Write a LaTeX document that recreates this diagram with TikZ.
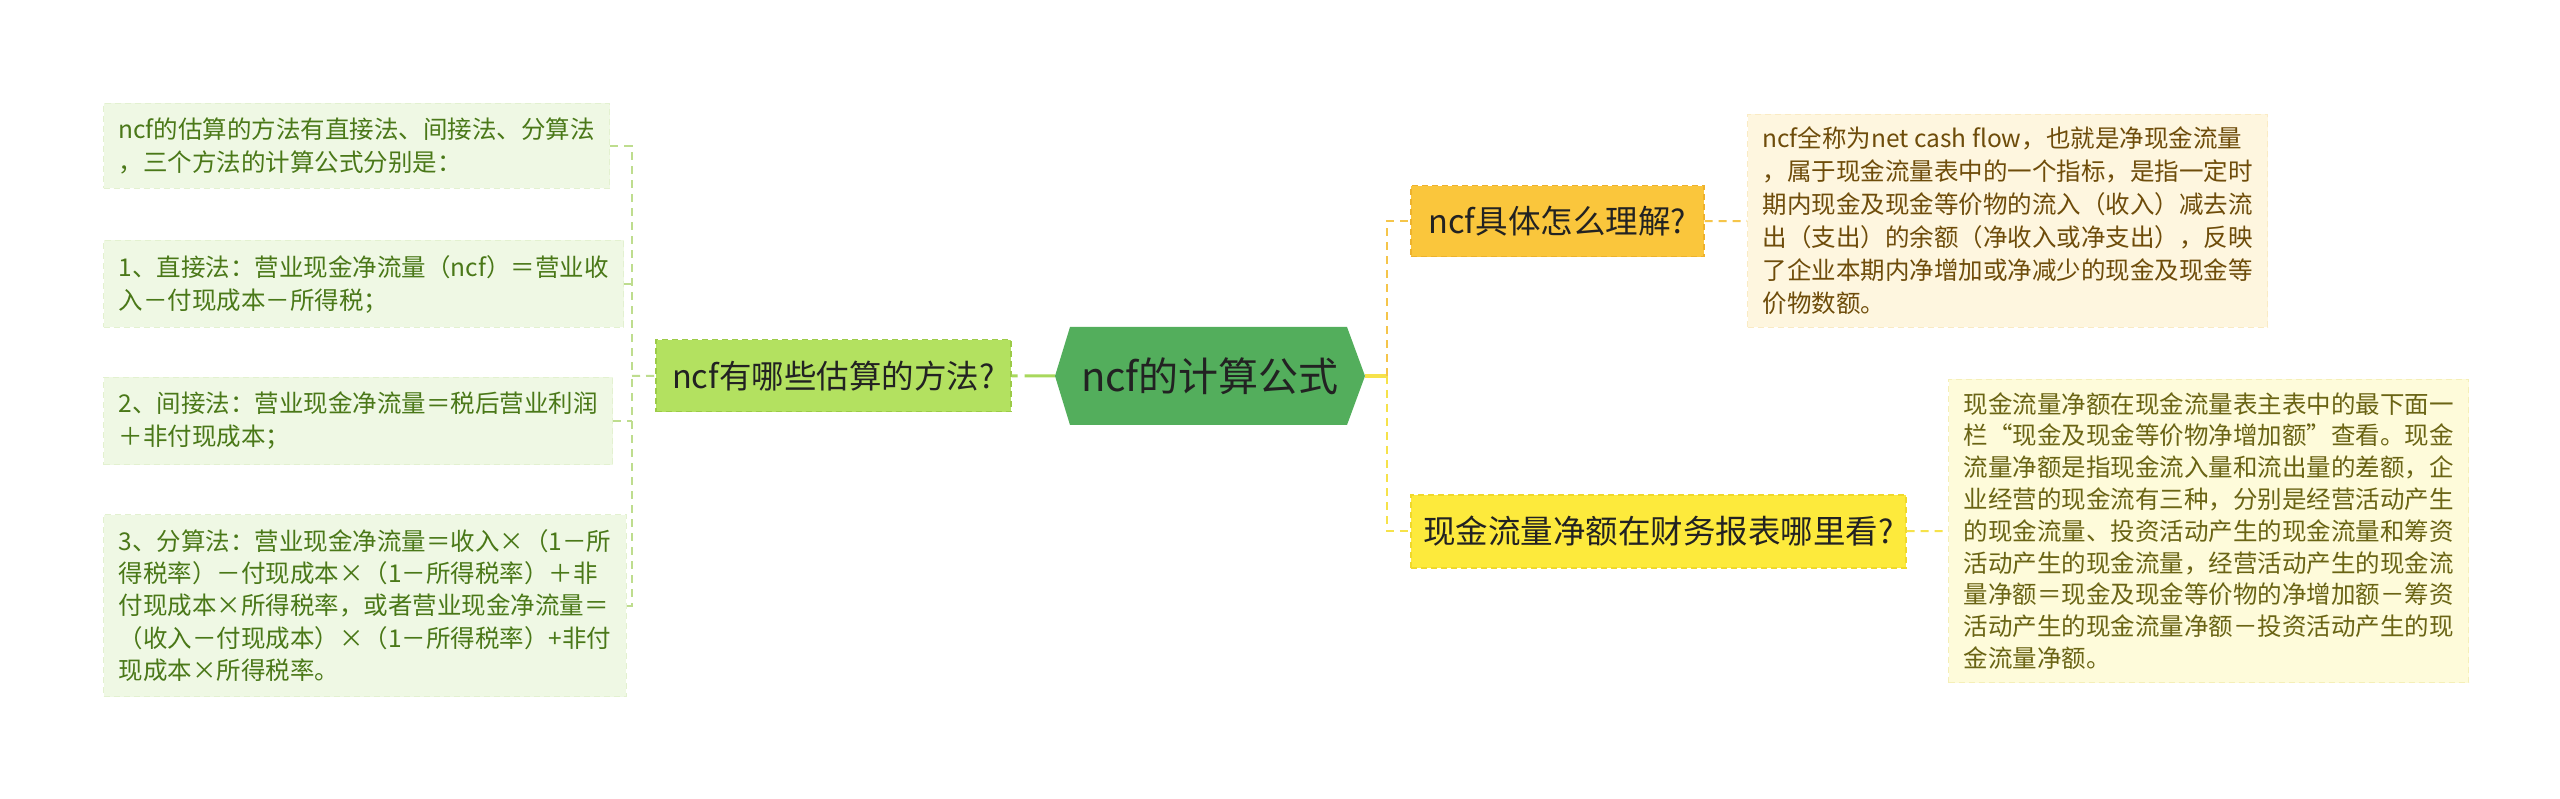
\documentclass[tikz,border=0pt]{standalone}
\usepackage{fontspec}
\setmainfont{Noto Sans CJK SC}
\definecolor{lfill}{HTML}{EFF8E4}
\definecolor{lborder}{HTML}{E3F1D0}
\definecolor{ltext}{HTML}{4A7818}
\definecolor{lconn}{HTML}{BEDD8E}
\definecolor{gfill}{HTML}{B3E160}
\definecolor{gborder}{HTML}{9CCB48}
\definecolor{gconn}{HTML}{A8D85C}
\definecolor{rootfill}{HTML}{53AE5C}
\definecolor{darktext}{HTML}{222222}
\definecolor{ofill}{HTML}{FAC63C}
\definecolor{oborder}{HTML}{EEB22C}
\definecolor{oconn}{HTML}{F5C54A}
\definecolor{r1fill}{HTML}{FEF6DF}
\definecolor{r1border}{HTML}{FAEBC4}
\definecolor{r1text}{HTML}{6E4C0A}
\definecolor{yfill}{HTML}{FDEA3C}
\definecolor{yborder}{HTML}{F0D92A}
\definecolor{yconn}{HTML}{F6E24A}
\definecolor{r2fill}{HTML}{FEFBDA}
\definecolor{r2border}{HTML}{F5EFB8}
\definecolor{r2text}{HTML}{6A6414}
\tikzset{
  leafbox/.style={rectangle, anchor=north west, inner xsep=15pt, inner ysep=0pt,
    align=left, font=\fontsize{24.5pt}{33pt}\selectfont,
    dash pattern=on 6pt off 4pt, line width=1pt},
  leftleaf/.style={leafbox, fill=lfill, draw=lborder, text=ltext},
  midbox/.style={rectangle, anchor=north west, inner sep=0pt, align=center,
    font=\fontsize{32.5pt}{36pt}\selectfont, text=darktext,
    dash pattern=on 6pt off 4pt, line width=1.5pt},
  dashconn/.style={line width=2pt, dash pattern=on 8pt off 6pt},
}
\begin{document}
\begin{tikzpicture}[x=1pt,y=-1pt]
\useasboundingbox[fill=white] (0,0) rectangle (2560,799);

% root hexagon
\fill[rootfill] (1055,376) -- (1070,327) -- (1347,327) -- (1365,376) -- (1347,425) -- (1070,425) -- cycle;
\node[minimum width=310pt, minimum height=98pt, inner sep=0pt, text=darktext,
  font=\fontsize{40pt}{44pt}\selectfont] (root) at (1210,376) {ncf的计算公式};

% left branch
\node[midbox, fill=gfill, draw=gborder, minimum width=355pt, minimum height=72pt] (gb) at (655,339) {ncf有哪些估算的方法?};

\node[leftleaf, minimum width=506pt, minimum height=85pt] (L1) at (103,103)
  {ncf的估算的方法有直接法、间接法、分算法\\，三个方法的计算公式分别是：};
\node[leftleaf, minimum width=506pt, minimum height=87pt] (L2) at (103,240)
  {1、直接法：营业现金净流量（ncf）＝营业收\\入－付现成本－所得税；};
\node[leftleaf, minimum width=506pt, minimum height=87pt] (L3) at (103,377)
  {2、间接法：营业现金净流量＝税后营业利润\\＋非付现成本；};
\node[leftleaf, minimum width=506pt, minimum height=182pt, font=\fontsize{24.5pt}{32.3pt}\selectfont] (L4) at (103,514)
  {3、分算法：营业现金净流量＝收入×（1－所\\得税率）－付现成本×（1－所得税率）＋非\\付现成本×所得税率，或者营业现金净流量＝\\（收入－付现成本）×（1－所得税率）+非付\\现成本×所得税率。};

% right branch
\node[midbox, fill=ofill, draw=oborder, minimum width=293pt, minimum height=71pt] (q1) at (1410,185) {ncf具体怎么理解?};
\node[midbox, fill=yfill, draw=yborder, minimum width=495pt, minimum height=73pt] (q2) at (1410,494) {现金流量净额在财务报表哪里看?};

\node[leafbox, fill=r1fill, draw=r1border, text=r1text, minimum width=508pt, minimum height=213pt] (r1) at (1747,114)
  {ncf全称为net cash flow，也就是净现金流量\\，属于现金流量表中的一个指标，是指一定时\\期内现金及现金等价物的流入（收入）减去流\\出（支出）的余额（净收入或净支出），反映\\了企业本期内净增加或净减少的现金及现金等\\价物数额。};
\node[leafbox, fill=r2fill, draw=r2border, text=r2text, minimum width=518pt, minimum height=303pt, font=\fontsize{24.5pt}{31.8pt}\selectfont] (r2) at (1948,379)
  {现金流量净额在现金流量表主表中的最下面一\\栏“现金及现金等价物净增加额”查看。现金\\流量净额是指现金流入量和流出量的差额，企\\业经营的现金流有三种，分别是经营活动产生\\的现金流量、投资活动产生的现金流量和筹资\\活动产生的现金流量，经营活动产生的现金流\\量净额＝现金及现金等价物的净增加额－筹资\\活动产生的现金流量净额－投资活动产生的现\\金流量净额。};

% connectors left
\coordinate (bl) at (632,376);
\draw[dashconn, lconn] (L1.east) -| (bl);
\draw[dashconn, lconn] (L4.east) -| (bl);
\draw[dashconn, lconn] (L2.east) -- (L2.east -| bl);
\draw[dashconn, lconn] (L3.east) -- (L3.east -| bl);
\draw[dashconn, lconn] (bl) -- (gb.west);
\draw[gconn, line width=3pt, dash pattern=on 6pt off 7pt on 40pt off 0pt] (gb.east) -- (root.west);

% connectors right
\coordinate (br) at (1387,376);
\draw[yconn, line width=4pt] (root.east) -- (br);
\draw[dashconn, oconn] (br) |- (q1.west);
\draw[dashconn, yconn] (br) |- (q2.west);
\draw[dashconn, oconn] (q1.east) -- (r1.west);
\draw[dashconn, yconn] (q2.east) -- (r2.west);
\end{tikzpicture}
\end{document}
